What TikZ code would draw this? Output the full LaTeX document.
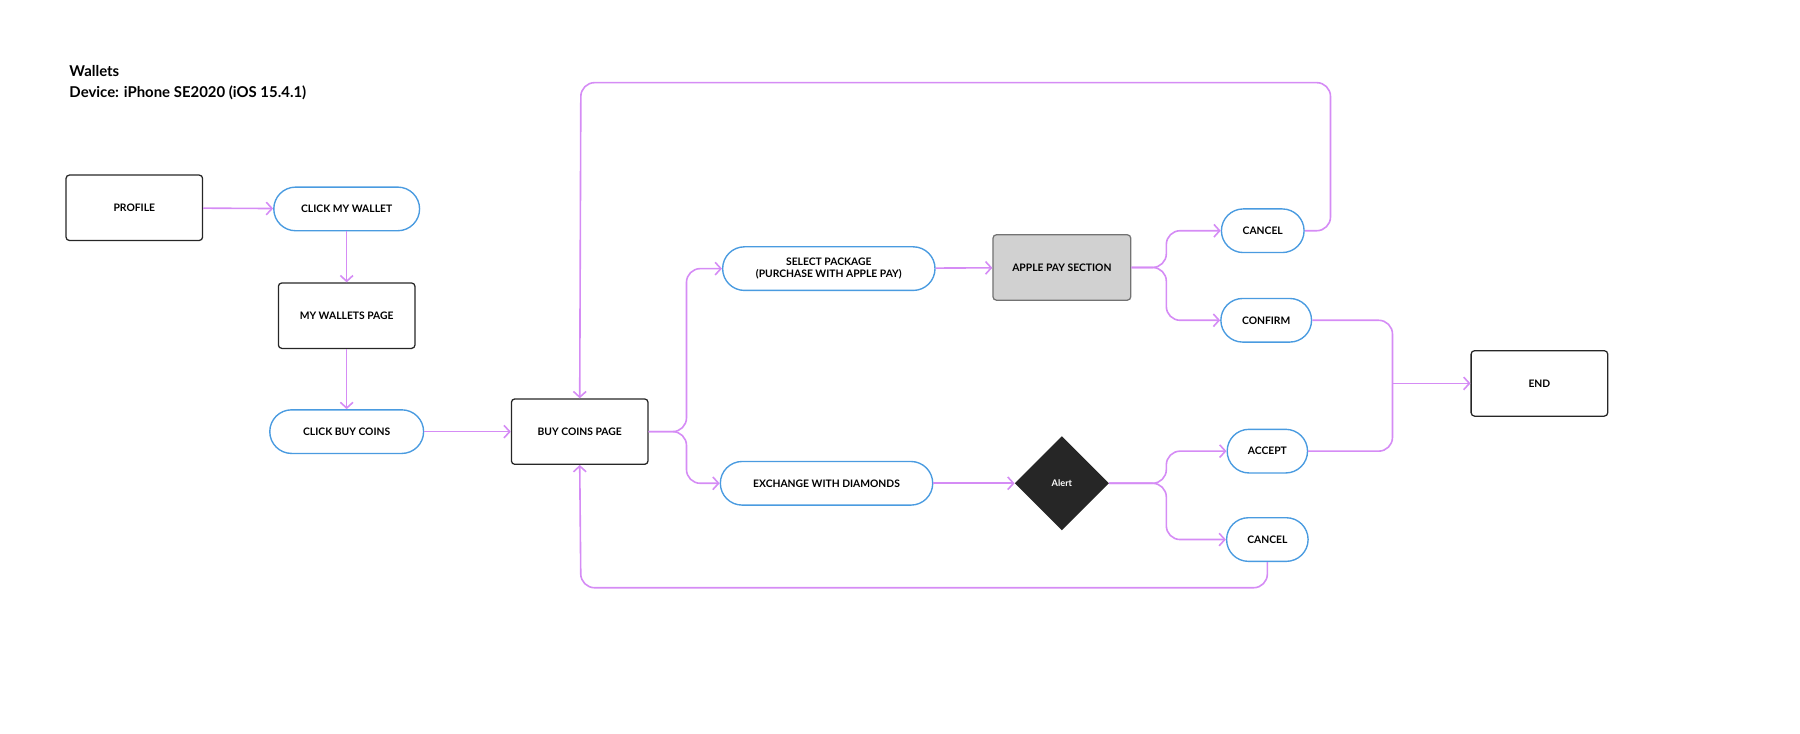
\documentclass[tikz,border=0pt]{standalone}
\usepackage{fontspec}
\setmainfont{Lato}
\usetikzlibrary{arrows.meta,shapes.geometric}
\definecolor{vio}{HTML}{D58CF5}
\definecolor{blu}{HTML}{4A9BE0}
\begin{document}
\begin{tikzpicture}[x=1pt,y=-1pt,
  lab/.style={font=\bfseries\fontsize{9}{11}\selectfont,align=center,text=black},
  box/.style={lab,draw=black!85,line width=1.1pt,rounded corners=3pt,minimum width=119pt,minimum height=57pt},
  pill/.style={lab,draw=blu,line width=1.2pt,rounded corners=19pt,minimum height=38pt,inner xsep=12pt},
  arr/.style={draw=vio,line width=1.4pt,rounded corners=12pt,-{Straight Barb[length=5pt,width=11pt]}},
  ln/.style={draw=vio,line width=1.4pt,rounded corners=12pt}]
\useasboundingbox (0,0) rectangle (1568,638.6);
\node[anchor=west,font=\bfseries\fontsize{13}{16}\selectfont,align=left] (t) at (57,72) {Wallets\\[2pt]Device: iPhone SE2020 (iOS 15.4.1)};
\node[box] (prof) at (117,181) {PROFILE};
\node[pill,minimum width=127pt] (cmw) at (302,182) {CLICK MY WALLET};
\node[box] (mwp) at (302,275) {MY WALLETS PAGE};
\node[pill,minimum width=134pt] (cbc) at (302,376) {CLICK BUY COINS};
\node[box] (bcp) at (505,376) {BUY COINS PAGE};
\node[pill,minimum width=185pt] (sel) at (722,234) {SELECT PACKAGE\\(PURCHASE WITH APPLE PAY)};
\node[box,fill=black!18,draw=black!55,minimum width=120pt] (aps) at (925,233) {APPLE PAY SECTION};
\node[pill,minimum width=72pt,inner xsep=4pt] (can1) at (1100,201) {CANCEL};
\node[pill,minimum width=79pt,inner xsep=4pt] (conf) at (1103,279) {CONFIRM};
\node[box] (end) at (1341,334) {END};
\node[pill,minimum width=70pt,inner xsep=4pt] (acc) at (1104,393) {ACCEPT};
\node[pill,minimum width=185pt] (exc) at (720,421) {EXCHANGE WITH DIAMONDS};
\node[diamond,fill=black!85,minimum width=82pt,minimum height=82pt,inner sep=0pt,text=white,font=\bfseries\fontsize{8}{10}\selectfont] (al) at (925,421) {Alert};
\node[pill,minimum width=71pt,inner xsep=4pt] (can2) at (1104,470) {CANCEL};
\coordinate (b1) at (598,376);
\coordinate (b2) at (1016,233);
\coordinate (b3) at (1016,421);
\coordinate (b4) at (1213,334);
\draw[arr] (prof) -- (cmw);
\draw[arr] (cmw) -- (mwp);
\draw[arr] (mwp) -- (cbc);
\draw[arr] (cbc) -- (bcp);
\draw[arr] (bcp.east) -- (b1) |- (sel.west);
\draw[arr] (bcp.east) -- (b1) |- (exc.west);
\draw[arr] (sel) -- (aps);
\draw[arr] (exc) -- (al);
\draw[arr] (aps.east) -- (b2) |- (can1.west);
\draw[arr] (aps.east) -- (b2) |- (conf.west);
\draw[arr] (al.east) -- (b3) |- (acc.west);
\draw[arr] (al.east) -- (b3) |- (can2.west);
\draw[ln] (conf.east) -| (b4);
\draw[ln] (acc.east) -| (b4);
\draw[arr] (b4) -- (end.west);
\draw[arr] (can1.east) -- (1159,201) -- (1159,72) -- (506,72) -- (bcp.north);
\draw[arr] (can2.south) -- (1104,512) -- (506,512) -- (bcp.south);
\end{tikzpicture}
\end{document}
